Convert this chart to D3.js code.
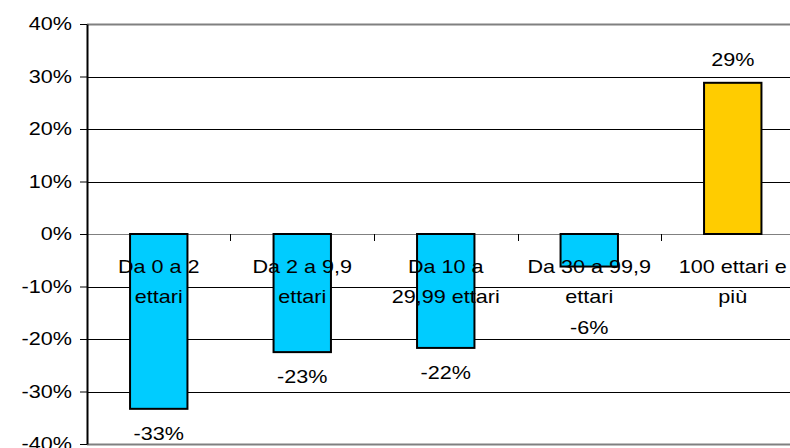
<!DOCTYPE html>
<html>
<head>
<meta charset="utf-8">
<script src="https://cdn.jsdelivr.net/npm/d3@7"></script>
<style>
	body { margin: 0; background: #fff; }
	svg { display: block; font-family: "Liberation Sans", Arial, sans-serif; }
</style>
</head>
<body>
<svg id="chart" width="790" height="448"></svg>
<script>
const CATEGORIES = ['Da 0 a 2 ettari', 'Da 2 a 9,9 ettari', 'Da 10 a 29,99 ettari', 'Da 30 a 99,9 ettari', '100 ettari e più'];
// labels as they wrap in the original
const CATEGORY_LINES = [['Da 0 a 2', 'ettari'], ['Da 2 a 9,9', 'ettari'], ['Da 10 a', '29,99 ettari'], ['Da 30 a 99,9', 'ettari'], ['100 ettari e', 'più']];
const VALUES = [-0.333, -0.225, -0.217, -0.062, 0.288];
const VALUE_LABELS = ['-33%', '-23%', '-22%', '-6%', '29%'];
const Y_TICKS = [-0.4, -0.3, -0.2, -0.1, 0, 0.1, 0.2, 0.3, 0.4];
const Y_TICK_LABELS = ['-40%', '-30%', '-20%', '-10%', '0%', '10%', '20%', '30%', '40%'];

const FONT = 18;
const SX = 1.2; // the original text is stretched sideways

const svg = d3.select('#chart');
const plotLeft = 87, plotRight = 804.5, plotTop = 24, plotBottom = 444;

const x = d3.scaleBand()
	.domain(CATEGORIES)
	.range([plotLeft, plotRight])
	.paddingInner(0.6)
	.paddingOuter(0.3);

const y = d3.scaleLinear()
	.domain([-0.4, 0.4])
	.range([plotBottom, plotTop]);

function stretchedText(g, txt, tx, ty, anchor) {
	g.append('text')
		.attr('transform', `translate(${tx},${ty}) scale(${SX},1)`)
		.attr('text-anchor', anchor)
		.attr('font-size', FONT)
		.attr('fill', '#000')
		.text(txt);
}

// gridlines
svg.append('g')
	.selectAll('line')
	.data(Y_TICKS)
	.enter().append('line')
		.attr('x1', plotLeft).attr('x2', 790)
		.attr('y1', d => Math.round(y(d)) + 0.5)
		.attr('y2', d => Math.round(y(d)) + 0.5)
		.attr('stroke', d => (d === 0.4 || d === -0.4 || d === 0) ? '#808080' : '#000')
		.attr('stroke-width', d => (d === 0.4 || d === -0.4) ? 2 : 1);

// y axis
const yAxis = d3.axisLeft(y)
	.tickValues(Y_TICKS)
	.tickSize(7)
	.tickSizeOuter(0);
const ya = svg.append('g')
	.attr('transform', `translate(${plotLeft},0)`)
	.call(yAxis);
ya.select('.domain').attr('stroke', '#000').attr('stroke-width', 2);
ya.selectAll('.tick line').attr('stroke', '#000');
ya.selectAll('.tick text').remove();
const yl = svg.append('g');
Y_TICKS.forEach((t, i) => stretchedText(yl, Y_TICK_LABELS[i], 72, y(t) + 6, 'end'));

// category separators on the zero line
const ticksX = CATEGORIES.slice(1).map(c => x(c) - x.step() * x.paddingInner() / 2);
svg.append('g')
	.selectAll('line')
	.data(ticksX)
	.enter().append('line')
		.attr('x1', d => Math.round(d) + 0.5).attr('x2', d => Math.round(d) + 0.5)
		.attr('y1', y(0)).attr('y2', y(0) + 7)
		.attr('stroke', '#000');

// bars
svg.append('g')
	.selectAll('rect')
	.data(VALUES)
	.enter().append('rect')
		.attr('x', (d, i) => x(CATEGORIES[i]))
		.attr('width', x.bandwidth())
		.attr('y', d => y(Math.max(0, d)))
		.attr('height', d => Math.abs(y(d) - y(0)))
		.attr('fill', (d, i) => i === 4 ? '#ffcc00' : '#00ccff')
		.attr('stroke', '#000')
		.attr('stroke-width', 2);

// category labels, drawn over the bars
const cl = svg.append('g');
CATEGORY_LINES.forEach((lines, i) => {
	const cx = x(CATEGORIES[i]) + x.bandwidth() / 2;
	lines.forEach((ln, j) => stretchedText(cl, ln, cx, y(0) + 39 + j * 30, 'middle'));
});

// value labels; negative ones are kept clear of the category labels
const vl = svg.append('g');
VALUES.forEach((v, i) => {
	const cx = x(CATEGORIES[i]) + x.bandwidth() / 2;
	const ty = v < 0 ? Math.max(y(v) + 31, y(0) + 100) : y(v) - 17;
	stretchedText(vl, VALUE_LABELS[i], cx, ty, 'middle');
});
</script>
</body>
</html>
